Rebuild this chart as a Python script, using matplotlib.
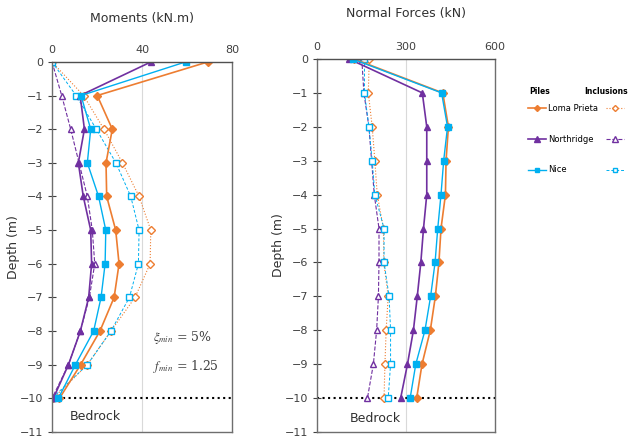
import matplotlib
matplotlib.use('Agg')
from matplotlib import pyplot as plt

plt.rcParams['font.family'] = ['DejaVu Sans']
plt.rcParams['mathtext.fontset'] = 'stix'

depth = [0, -1, -2, -3, -4, -5, -6, -7, -8, -9, -10]

# moments (kN.m)
mom_lp_pile = [69.3, 20.1, 26.8, 24.0, 24.3, 28.3, 29.8, 27.6, 21.3, 12.7, 3.3]
mom_lp_incl = [0.0, 14.0, 23.1, 31.3, 38.7, 43.9, 43.6, 36.9, 26.2, 15.7, 0.5]
mom_nr_pile = [44.0, 12.5, 14.4, 11.7, 13.9, 17.2, 17.6, 16.3, 12.6, 7.3, 0.6]
mom_nr_incl = [0.0, 4.3, 8.3, 12.0, 15.7, 17.9, 19.0, 16.6, 12.6, 7.3, 0.0]
mom_ni_pile = [59.4, 12.9, 17.2, 15.7, 20.7, 23.9, 23.6, 21.8, 18.5, 10.4, 2.8]
mom_ni_incl = [0.0, 10.7, 19.7, 28.4, 35.0, 38.7, 38.4, 34.4, 26.2, 15.7, 0.0]

# normal forces (kN)
nf_lp_pile = [125, 424, 443, 435, 433, 418, 411, 399, 382, 354, 336]
nf_lp_incl = [176, 173, 186, 195, 203, 224, 225, 240, 233, 229, 226]
nf_nr_pile = [108, 355, 370, 370, 370, 359, 350, 338, 325, 305, 282]
nf_nr_incl = [151, 158, 175, 184, 193, 209, 209, 207, 201, 190, 170]
nf_ni_pile = [120, 420, 440, 427, 418, 407, 398, 383, 364, 333, 314]
nf_ni_incl = [160, 160, 175, 186, 195, 226, 226, 243, 248, 248, 240]

names = ['Loma Prieta', 'Northridge', 'Nice']

orange = '#ED7D31'
purple = '#7030A0'
cyan = '#00B0F0'

fig = plt.figure(figsize=(6.32, 4.38), dpi=100)
ax1 = fig.add_axes([0.0823, 0.0137, 0.2848, 0.845])
ax2 = fig.add_axes([0.5016, 0.0137, 0.2816, 0.8516])


def draw(ax, lp_p, lp_i, nr_p, nr_i, ni_p, ni_i):
    hp = []
    hi = []
    hi.append(ax.plot(lp_i, depth, color=orange, ls=':', lw=0.8, marker='D', ms=3.8,
                      mfc='white', mec=orange, mew=1.0)[0])
    hi.append(ax.plot(nr_i, depth, color=purple, ls='--', lw=0.8, marker='^', ms=5,
                      mfc='white', mec=purple, mew=1.0)[0])
    hi.append(ax.plot(ni_i, depth, color=cyan, ls=(0, (3, 2)), lw=0.7, marker='s', ms=4,
                      mfc='white', mec=cyan, mew=1.0)[0])
    hp.append(ax.plot(lp_p, depth, color=orange, lw=1.2, marker='D', ms=3.8)[0])
    hp.append(ax.plot(nr_p, depth, color=purple, lw=1.2, marker='^', ms=5)[0])
    hp.append(ax.plot(ni_p, depth, color=cyan, lw=1.0, marker='s', ms=4)[0])
    ax.set_ylim(-11, 0)
    ax.set_yticks(range(-11, 1))
    ax.xaxis.tick_top()
    ax.tick_params(axis='x', length=0, labelsize=8, colors='#404040', pad=5)
    ax.tick_params(axis='y', direction='inout', length=6, labelsize=8, colors='#404040')
    for s in ax.spines.values():
        s.set_color('#6e6e6e')
        s.set_linewidth(1.0)
    ax.spines['top'].set_color('#505050')
    ax.axhline(-10, color='black', ls=':', lw=1.5, zorder=1)
    ax.set_ylabel('Depth (m)', fontsize=9, color='#303030', labelpad=0)
    return hp, hi


draw(ax1, mom_lp_pile, mom_lp_incl, mom_nr_pile, mom_nr_incl, mom_ni_pile, mom_ni_incl)
ax1.set_xlim(0, 80)
ax1.set_xticks([0, 40, 80])
ax1.axvline(40, color='#d9d9d9', lw=0.8, zorder=0)
ax1.set_title('Moments (kN.m)', fontsize=9, color='#303030', pad=29)
ax1.text(8, -10.55, 'Bedrock', fontsize=9, color='#303030', va='center')
ax1.text(45, -8.2, r'$\xi_{min}$ = 5%', fontsize=9, color='#404040', va='center',
         family='serif')
ax1.text(45, -9.05, r'$f_{min}$ = 1.25', fontsize=9, color='#404040', va='center',
         family='serif')

hp, hi = draw(ax2, nf_lp_pile, nf_lp_incl, nf_nr_pile, nf_nr_incl, nf_ni_pile, nf_ni_incl)
ax2.set_xlim(0, 600)
ax2.set_xticks([0, 300, 600])
ax2.axvline(300, color='#d9d9d9', lw=0.8, zorder=0)
ax2.set_title('Normal Forces (kN)', fontsize=9, color='#303030', pad=30)
ax2.text(110, -10.6, 'Bedrock', fontsize=9, color='#303030', va='center')

fig.text(0.838, 1 - 92 / 438, 'Piles', fontsize=5.5, fontweight='bold', va='center')
fig.text(0.993, 1 - 92 / 438, 'Inclusions', fontsize=5.5, fontweight='bold',
         va='center', ha='right')
fig.legend(hp, names, loc='upper left', bbox_to_anchor=(0.829, 1 - 100 / 438),
           frameon=False, fontsize=6, handlelength=2.2, handletextpad=0.2,
           labelspacing=2.6, borderpad=0, markerscale=0.8)
fig.legend(hi, ['', '', ''], loc='upper left', bbox_to_anchor=(0.952, 1 - 100 / 438),
           frameon=False, fontsize=6, handlelength=2.2, handletextpad=0.0,
           labelspacing=2.6, borderpad=0, markerscale=0.8)

fig.savefig('out.png', dpi=100)
